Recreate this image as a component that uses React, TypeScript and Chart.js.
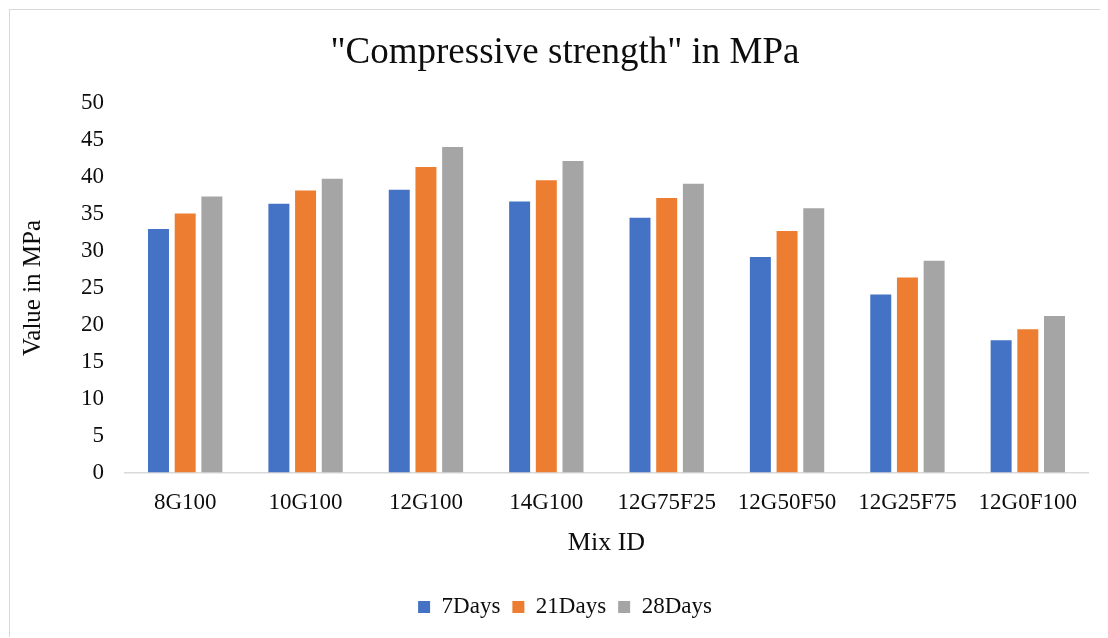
import React, { useEffect, useRef } from "react";
import { Chart, registerables } from "chart.js";

Chart.register(...registerables);

// Mix designs along the x axis
const mixIds = ["8G100", "10G100", "12G100", "14G100", "12G75F25", "12G50F50", "12G25F75", "12G0F100"];

// Compressive strength (MPa) by curing age
const days7 = [33.0, 36.4, 38.3, 36.7, 34.5, 29.2, 24.1, 17.9];
const days21 = [35.1, 38.2, 41.4, 39.6, 37.2, 32.7, 26.4, 19.4];
const days28 = [37.4, 39.8, 44.1, 42.2, 39.1, 35.8, 28.7, 21.2];

const seriesNames = ["7Days", "21Days", "28Days"];
const seriesColors = ["#4472C4", "#ED7D31", "#A5A5A5"];

const FONT = "'Liberation Serif', 'Times New Roman', serif";
const TEXT = "#0d0d0d";

// The chart frame is a little wider than the visible panel, so the
// centred title and legend sit where the full frame's centre is.
const CANVAS_W = 1110;
const CANVAS_H = 628;

export default function App() {
  const canvasRef = useRef<HTMLCanvasElement | null>(null);

  useEffect(() => {
    const canvas = canvasRef.current;
    if (!canvas) return;
    const values = [days7, days21, days28];
    const chart = new Chart(canvas, {
      type: "bar",
      data: {
        labels: mixIds,
        datasets: values.map((data, i) => ({
          label: seriesNames[i],
          data,
          backgroundColor: seriesColors[i],
          borderWidth: 0,
          categoryPercentage: 0.665,
          barPercentage: 0.786,
          yAxisID: "y",
        })),
      },
      options: {
        responsive: false,
        animation: false,
        devicePixelRatio: 1,
        layout: { padding: { left: 0, right: 0, top: 0, bottom: 9.5 } },
        plugins: {
          title: {
            display: true,
            text: '"Compressive strength" in MPa',
            color: TEXT,
            font: { family: FONT, size: 37, weight: "normal" },
            padding: { top: 21, bottom: 28 },
          },
          legend: {
            display: true,
            position: "bottom",
            labels: {
              color: TEXT,
              font: { family: FONT, size: 23 },
              boxWidth: 12,
              boxHeight: 12,
              padding: 12,
            },
          },
          tooltip: { enabled: false },
        },
        scales: {
          x: {
            grid: { display: false, drawTicks: false },
            border: { display: true, color: "#D9D9D9", width: 1.5 },
            ticks: {
              color: TEXT,
              font: { family: FONT, size: 23 },
              padding: 17,
              maxRotation: 0,
              autoSkip: false,
            },
            title: {
              display: true,
              text: "Mix ID",
              color: TEXT,
              font: { family: FONT, size: 26 },
              padding: { top: 0, bottom: 25 },
            },
            afterFit: (scale: any) => {
              scale.height = 111;
            },
          },
          y: {
            min: 0,
            max: 50,
            grid: { display: false, drawTicks: false },
            border: { display: false },
            ticks: {
              stepSize: 5,
              color: TEXT,
              font: { family: FONT, size: 23 },
              padding: 21,
            },
            title: {
              display: true,
              text: "Value in MPa",
              color: TEXT,
              font: { family: FONT, size: 25 },
              padding: { top: 8, bottom: 0 },
            },
            afterFit: (scale: any) => {
              scale.width = 115;
            },
          },
          // empty right-hand margin of the plot
          yRight: {
            position: "right",
            min: 0,
            max: 50,
            grid: { display: false, drawTicks: false },
            border: { display: false },
            ticks: { display: false },
            afterFit: (scale: any) => {
              scale.width = 32;
            },
          },
        },
      },
    });
    return () => chart.destroy();
  }, []);

  return (
    <div
      style={{
        position: "relative",
        top: 1,
        left: 1,
        width: 1098,
        height: CANVAS_H,
        overflow: "hidden",
        borderTop: "1px solid #D9D9D9",
        borderLeft: "1px solid #D9D9D9",
        background: "#fff",
      }}
    >
      <canvas ref={canvasRef} width={CANVAS_W} height={CANVAS_H} style={{ display: "block" }} />
    </div>
  );
}
